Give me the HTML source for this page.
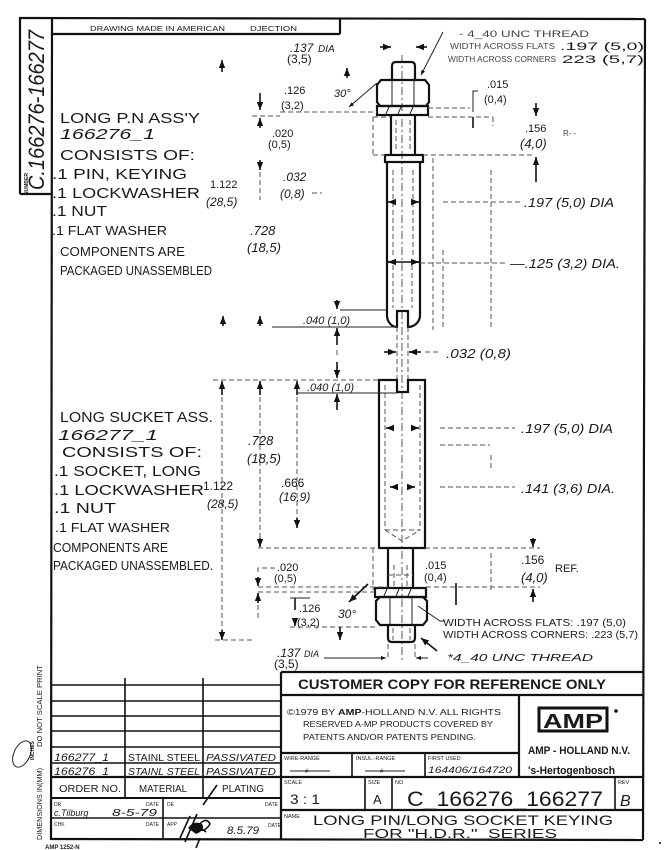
<!DOCTYPE html>
<html><head><meta charset="utf-8"><style>
html,body{margin:0;padding:0;background:#fff;}
svg{display:block;}
text{font-family:"Liberation Sans",sans-serif;fill:#1a1a1a;}
.it{font-style:italic;}
.b{font-weight:bold;}
.faint{fill:#444;}
.th{stroke:#111;stroke-width:2.2;fill:none;}
.md{stroke:#111;stroke-width:1.6;fill:none;}
.tn{stroke:#222;stroke-width:1;fill:none;}
.ds{stroke:#555;stroke-width:1;fill:none;stroke-dasharray:5 3;}
.cl{stroke:#555;stroke-width:1;fill:none;stroke-dasharray:8 3 2 3;}
</style></head><body>
<svg width="666" height="850" viewBox="0 0 666 850" xmlns="http://www.w3.org/2000/svg">
<defs>
<marker id="ar" viewBox="0 0 10 10" refX="10" refY="5" markerWidth="5" markerHeight="5" orient="auto-start-reverse"><path d="M0,1 L10,5 L0,9 z" fill="#111"/></marker>
</defs>

<!-- ===== BORDERS ===== -->
<line x1="20" y1="18" x2="645" y2="19" class="th"/>
<line x1="645" y1="19" x2="643" y2="840" class="th"/>
<line x1="52" y1="17" x2="51" y2="840" class="th"/>
<line x1="51" y1="839" x2="643" y2="840" class="th"/>
<line x1="20" y1="17" x2="20" y2="194" class="th"/>
<line x1="20" y1="194" x2="52" y2="194" class="th"/>
<text transform="translate(44,190) rotate(-90)" font-size="22" textLength="160" lengthAdjust="spacingAndGlyphs" class="it">C.166276-166277</text>
<text transform="translate(28,195) rotate(-90)" font-size="5" class="b">NUMBER</text>
<line x1="52" y1="34" x2="340" y2="34" class="th"/>
<line x1="340" y1="18" x2="340" y2="34" class="th"/>
<text x="90" y="31" font-size="7.5" textLength="135" lengthAdjust="spacingAndGlyphs">DRAWING MADE IN AMERICAN</text>
<text x="250" y="31" font-size="7.5" textLength="47" lengthAdjust="spacingAndGlyphs">DJECTION</text>

<!-- ===== LEFT TEXT: PIN ===== -->
<g font-size="15">
<text x="60" y="123" textLength="140" lengthAdjust="spacingAndGlyphs">LONG P.N ASS'Y</text>
<text x="60" y="139" textLength="95" lengthAdjust="spacingAndGlyphs" class="it">166276_1</text>
<text x="60" y="160" textLength="135" lengthAdjust="spacingAndGlyphs">CONSISTS OF:</text>
<text x="52" y="179" textLength="135" lengthAdjust="spacingAndGlyphs">.1 PIN, KEYING</text>
<text x="52" y="198" textLength="148" lengthAdjust="spacingAndGlyphs">.1 LOCKWASHER</text>
<text x="52" y="216" textLength="55" lengthAdjust="spacingAndGlyphs">.1 NUT</text>
</g>
<g font-size="13">
<text x="52" y="235" textLength="115" lengthAdjust="spacingAndGlyphs">.1 FLAT WASHER</text>
<text x="60" y="256" textLength="125" lengthAdjust="spacingAndGlyphs">COMPONENTS ARE</text>
<text x="60" y="275" textLength="152" lengthAdjust="spacingAndGlyphs">PACKAGED UNASSEMBLED</text>
</g>

<!-- ===== LEFT TEXT: SOCKET ===== -->
<g font-size="15">
<text x="60" y="422" textLength="153" lengthAdjust="spacingAndGlyphs">LONG SUCKET ASS.</text>
<text x="58" y="440" textLength="100" lengthAdjust="spacingAndGlyphs" class="it">166277_1</text>
<text x="62" y="457" textLength="140" lengthAdjust="spacingAndGlyphs">CONSISTS OF:</text>
<text x="54" y="476" textLength="147" lengthAdjust="spacingAndGlyphs">.1 SOCKET, LONG</text>
<text x="54" y="495" textLength="150" lengthAdjust="spacingAndGlyphs">.1 LOCKWASHER</text>
<text x="54" y="513" textLength="62" lengthAdjust="spacingAndGlyphs">.1 NUT</text>
</g>
<g font-size="13">
<text x="55" y="532" textLength="115" lengthAdjust="spacingAndGlyphs">.1 FLAT WASHER</text>
<text x="53" y="552" textLength="115" lengthAdjust="spacingAndGlyphs">COMPONENTS ARE</text>
<text x="53" y="570" textLength="160" lengthAdjust="spacingAndGlyphs">PACKAGED UNASSEMBLED.</text>
</g>

<!-- ===== CENTERLINE ===== -->
<line x1="402" y1="55" x2="402" y2="660" class="cl"/>

<!-- ===== PIN ===== -->
<path d="M392,80 V66 Q392,62 396,62 H411 Q415,62 415,66 V80" class="th"/>
<polygon points="381,80 425,80 429,85 429,102 426,106 380,106 377,102 377,85" class="th"/>
<line x1="392" y1="80" x2="392" y2="106" class="tn"/>
<line x1="414" y1="80" x2="414" y2="106" class="tn"/>
<rect x="377" y="106" width="51" height="9" class="th"/>
<path d="M386,114 l3,-7 M398,114 l3,-7 M410,114 l3,-7" class="tn"/>
<line x1="391" y1="115" x2="391" y2="155" class="th"/>
<line x1="415" y1="115" x2="415" y2="155" class="th"/>
<line x1="396" y1="120" x2="396" y2="152" class="ds"/>
<line x1="410" y1="120" x2="410" y2="152" class="ds"/>
<rect x="385" y="155" width="38" height="7" class="th"/>
<path d="M387,162 V314 A10,12 0 0 0 397,327 V311 H408 V327 A12,12 0 0 0 420,314 V162" class="th"/>
<line x1="387" y1="262" x2="420" y2="262" class="md"/>
<line x1="393" y1="265" x2="393" y2="308" class="ds"/>
<line x1="412" y1="265" x2="412" y2="308" class="ds"/>
<line x1="393" y1="170" x2="393" y2="258" class="ds"/>
<line x1="413" y1="170" x2="413" y2="258" class="ds"/>
<line x1="395" y1="202" x2="388" y2="202" class="md" marker-end="url(#ar)"/>
<line x1="412" y1="202" x2="419" y2="202" class="md" marker-end="url(#ar)"/>
<line x1="396" y1="262" x2="388" y2="262" class="md" marker-end="url(#ar)"/>
<line x1="411" y1="262" x2="419" y2="262" class="md" marker-end="url(#ar)"/>
<line x1="397" y1="327" x2="397" y2="392" class="ds"/>
<line x1="408" y1="327" x2="408" y2="392" class="ds"/>
<line x1="384" y1="352" x2="396" y2="352" class="md" marker-end="url(#ar)"/>
<line x1="421" y1="352" x2="409" y2="352" class="md" marker-end="url(#ar)"/>
<line x1="425" y1="352" x2="440" y2="352" class="ds"/>

<!-- ===== SOCKET ===== -->
<path d="M379,380 H397 V392 H408 V380 H425 V548 H379 Z" class="th"/>
<line x1="385" y1="385" x2="385" y2="530" class="ds"/>
<line x1="420" y1="385" x2="420" y2="530" class="ds"/>
<path d="M385,530 L402,541 L420,530" class="ds"/>
<line x1="385" y1="530" x2="420" y2="530" class="ds"/>
<line x1="394" y1="428" x2="386" y2="428" class="md" marker-end="url(#ar)"/>
<line x1="411" y1="428" x2="419" y2="428" class="md" marker-end="url(#ar)"/>
<line x1="397" y1="487" x2="390" y2="487" class="md" marker-end="url(#ar)"/>
<line x1="408" y1="487" x2="415" y2="487" class="md" marker-end="url(#ar)"/>
<line x1="388" y1="548" x2="388" y2="588" class="th"/>
<line x1="413" y1="548" x2="413" y2="588" class="th"/>
<line x1="394" y1="565" x2="394" y2="588" class="ds"/>
<line x1="407" y1="565" x2="407" y2="588" class="ds"/>
<line x1="388" y1="575" x2="413" y2="575" class="ds"/>
<rect x="375" y="588" width="51" height="9" class="th"/>
<path d="M384,596 l3,-7 M396,596 l3,-7 M408,596 l3,-7" class="tn"/>
<polygon points="380,597 423,597 427,601 427,620 423,625 380,625 376,620 376,601" class="th"/>
<line x1="390" y1="597" x2="390" y2="625" class="tn"/>
<line x1="412" y1="597" x2="412" y2="625" class="tn"/>
<path d="M388,625 V638 Q388,642 392,642 H411 Q415,642 415,638 V625" class="th"/>
<line x1="393" y1="628" x2="393" y2="640" class="ds"/>
<line x1="410" y1="628" x2="410" y2="640" class="ds"/>

<!-- ===== PIN DIMENSIONS ===== -->
<text x="459" y="37" font-size="9" textLength="130" lengthAdjust="spacingAndGlyphs" class="faint">- 4_40 UNC THREAD</text>
<text x="450" y="49" font-size="8" textLength="105" lengthAdjust="spacingAndGlyphs" class="faint">WIDTH ACROSS FLATS</text>
<text x="560" y="50" font-size="11" textLength="84" lengthAdjust="spacingAndGlyphs">.197 (5,0)</text>
<text x="448" y="62" font-size="8" textLength="108" lengthAdjust="spacingAndGlyphs" class="faint">WIDTH ACROSS CORNERS</text>
<text x="562" y="63" font-size="11" textLength="82" lengthAdjust="spacingAndGlyphs">223 (5,7)</text>
<line x1="443" y1="32" x2="421" y2="75" class="tn" marker-end="url(#ar)"/>

<text x="290" y="52" font-size="12" class="it">.137</text>
<text x="318" y="52" font-size="10" class="it">DIA</text>
<text x="287" y="63" font-size="12">(3,5)</text>
<line x1="380" y1="47" x2="391" y2="47" class="md" marker-end="url(#ar)"/>
<line x1="427" y1="47" x2="416" y2="47" class="md" marker-end="url(#ar)"/>
<line x1="222" y1="72" x2="222" y2="60" class="md" marker-end="url(#ar)"/>
<line x1="347" y1="78" x2="347" y2="68" class="md" marker-end="url(#ar)"/>

<text x="334" y="97" font-size="11" class="it">30°</text>
<line x1="377" y1="83" x2="349" y2="107" class="tn" marker-end="url(#ar)"/>

<text x="284" y="94" font-size="11">.126</text>
<text x="281" y="109" font-size="11">(3,2)</text>
<line x1="280" y1="112" x2="377" y2="112" class="ds"/>
<line x1="252" y1="116" x2="280" y2="116" class="ds"/>
<line x1="260" y1="93" x2="260" y2="110" class="md" marker-end="url(#ar)"/>
<line x1="260" y1="128" x2="260" y2="118" class="md" marker-end="url(#ar)"/>
<text x="272" y="137" font-size="11">.020</text>
<text x="268" y="148" font-size="11">(0,5)</text>
<line x1="260" y1="160" x2="260" y2="170" class="md" marker-end="url(#ar)"/>
<line x1="260" y1="172" x2="260" y2="200" class="ds"/>
<text x="283" y="181" font-size="12" class="it">.032</text>
<text x="280" y="198" font-size="12" class="it">(0,8)</text>
<line x1="312" y1="193" x2="322" y2="193" class="ds"/>
<text x="210" y="188" font-size="11">1.122</text>
<text x="206" y="206" font-size="12" class="it">(28,5)</text>
<text x="250" y="235" font-size="13" class="it">.728</text>
<text x="247" y="252" font-size="13" class="it">(18,5)</text>

<text x="487" y="88" font-size="11">.015</text>
<text x="484" y="103" font-size="11">(0,4)</text>
<path d="M478,91 H473 V112" class="tn"/>
<line x1="473" y1="117" x2="473" y2="128" class="md"/>
<line x1="428" y1="108" x2="470" y2="108" class="ds"/>
<line x1="428" y1="117" x2="493" y2="117" class="ds"/>
<line x1="493" y1="117" x2="493" y2="126" class="ds"/>
<line x1="373" y1="117" x2="373" y2="155" class="ds"/>
<line x1="373" y1="117" x2="391" y2="117" class="ds"/>
<line x1="373" y1="155" x2="385" y2="155" class="ds"/>
<line x1="423" y1="155" x2="535" y2="155" class="ds"/>
<line x1="536" y1="103" x2="536" y2="116" class="md" marker-end="url(#ar)"/>
<line x1="536" y1="182" x2="536" y2="157" class="md" marker-end="url(#ar)"/>
<text x="525" y="132" font-size="11">.156</text>
<text x="520" y="148" font-size="13" class="it">(4,0)</text>
<text x="563" y="136" font-size="8" class="faint">R- -</text>
<line x1="433" y1="158" x2="433" y2="330" class="ds"/>
<line x1="491" y1="170" x2="491" y2="330" class="ds"/>
<line x1="443" y1="250" x2="443" y2="330" class="ds"/>
<line x1="443" y1="202" x2="520" y2="202" class="ds"/>
<text x="524" y="207" font-size="13" textLength="90" lengthAdjust="spacingAndGlyphs" class="it">.197 (5,0) DIA</text>
<line x1="420" y1="263" x2="505" y2="263" class="ds"/>
<text x="510" y="268" font-size="13" textLength="110" lengthAdjust="spacingAndGlyphs" class="it">—.125 (3,2) DIA.</text>

<line x1="223" y1="326" x2="223" y2="316" class="md" marker-end="url(#ar)"/>
<line x1="260" y1="326" x2="260" y2="316" class="md" marker-end="url(#ar)"/>
<line x1="272" y1="327" x2="397" y2="327" class="tn"/>
<line x1="340" y1="310" x2="387" y2="310" class="tn"/>
<line x1="337" y1="300" x2="337" y2="309" class="md" marker-end="url(#ar)"/>
<line x1="337" y1="345" x2="337" y2="328" class="md" marker-end="url(#ar)"/>
<text x="303" y="324" font-size="11" class="it">.040 (1,0)</text>
<line x1="337" y1="350" x2="337" y2="355" class="ds"/>
<text x="446" y="358" font-size="13" textLength="65" lengthAdjust="spacingAndGlyphs" class="it">.032 (0,8)</text>

<!-- ===== SOCKET DIMENSIONS ===== -->
<line x1="337" y1="362" x2="337" y2="378" class="md" marker-end="url(#ar)"/>
<line x1="213" y1="380" x2="379" y2="380" class="ds"/>
<line x1="222" y1="395" x2="222" y2="381" class="md" marker-end="url(#ar)"/>
<line x1="260" y1="395" x2="260" y2="381" class="md" marker-end="url(#ar)"/>
<line x1="297" y1="395" x2="297" y2="381" class="md" marker-end="url(#ar)"/>
<text x="307" y="391" font-size="11" class="it">.040 (1,0)</text>
<line x1="297" y1="393" x2="397" y2="393" class="tn"/>
<line x1="337" y1="410" x2="337" y2="394" class="md" marker-end="url(#ar)"/>
<line x1="222" y1="397" x2="222" y2="630" class="ds"/>
<line x1="222" y1="630" x2="222" y2="640" class="md" marker-end="url(#ar)"/>
<line x1="215" y1="640" x2="255" y2="640" class="ds"/>
<line x1="260" y1="397" x2="260" y2="538" class="ds"/>
<line x1="260" y1="538" x2="260" y2="547" class="md" marker-end="url(#ar)"/>
<line x1="297" y1="397" x2="297" y2="518" class="ds"/>
<line x1="297" y1="518" x2="297" y2="528" class="md" marker-end="url(#ar)"/>
<text x="248" y="445" font-size="13" class="it">.728</text>
<text x="247" y="463" font-size="13" class="it">(18,5)</text>
<text x="203" y="490" font-size="12">1.122</text>
<text x="207" y="508" font-size="12" class="it">(28,5)</text>
<text x="281" y="487" font-size="12">.666</text>
<text x="279" y="501" font-size="12" class="it">(16,9)</text>
<line x1="258" y1="548" x2="379" y2="548" class="ds"/>
<line x1="425" y1="548" x2="540" y2="548" class="ds"/>
<text x="277" y="571" font-size="11">.020</text>
<text x="274" y="582" font-size="11">(0,5)</text>
<path d="M275,568 H258 V572" class="ds"/>
<line x1="258" y1="577" x2="258" y2="586" class="md" marker-end="url(#ar)"/>
<line x1="258" y1="587" x2="388" y2="587" class="ds"/>
<line x1="258" y1="592" x2="375" y2="592" class="ds"/>
<line x1="258" y1="603" x2="258" y2="593" class="md" marker-end="url(#ar)"/>
<line x1="258" y1="605" x2="258" y2="620" class="ds"/>
<line x1="295" y1="598" x2="295" y2="610" class="md"/>
<line x1="290" y1="598" x2="310" y2="598" class="tn"/>
<text x="299" y="612" font-size="11">.126</text>
<text x="297" y="626" font-size="11">(3,2)</text>
<line x1="295" y1="618" x2="295" y2="626" class="md" marker-end="url(#ar)"/>
<line x1="290" y1="627" x2="376" y2="627" class="ds"/>
<line x1="340" y1="627" x2="340" y2="640" class="md" marker-end="url(#ar)"/>
<text x="338" y="618" font-size="12" class="it">30°</text>
<line x1="368" y1="584" x2="349" y2="602" class="md" marker-end="url(#ar)"/>
<text x="277" y="657" font-size="12" class="it">.137</text>
<text x="304" y="657" font-size="9" class="it">DIA</text>
<text x="274" y="668" font-size="12">(3,5)</text>
<line x1="324" y1="658" x2="386" y2="658" class="tn" marker-end="url(#ar)"/>
<line x1="428" y1="658" x2="416" y2="658" class="tn" marker-end="url(#ar)"/>
<line x1="388" y1="644" x2="388" y2="660" class="ds"/>
<line x1="415" y1="644" x2="415" y2="660" class="ds"/>

<text x="521" y="433" font-size="13" textLength="92" lengthAdjust="spacingAndGlyphs" class="it">.197 (5,0) DIA</text>
<line x1="440" y1="428" x2="515" y2="428" class="ds"/>
<line x1="440" y1="445" x2="490" y2="445" class="ds"/>
<text x="521" y="493" font-size="13" textLength="94" lengthAdjust="spacingAndGlyphs" class="it">.141 (3,6) DIA.</text>
<line x1="440" y1="487" x2="515" y2="487" class="ds"/>
<line x1="491" y1="455" x2="491" y2="470" class="ds"/>
<text x="425" y="569" font-size="11">.015</text>
<text x="424" y="581" font-size="11">(0,4)</text>
<line x1="456" y1="583" x2="456" y2="605" class="md"/>
<line x1="491" y1="553" x2="491" y2="590" class="ds"/>
<line x1="373" y1="548" x2="373" y2="590" class="ds"/>
<line x1="426" y1="587" x2="540" y2="587" class="ds"/>
<text x="521" y="564" font-size="12">.156</text>
<text x="521" y="582" font-size="13" class="it">(4,0)</text>
<text x="555" y="572" font-size="11">REF.</text>
<line x1="533" y1="538" x2="533" y2="547" class="md" marker-end="url(#ar)"/>
<line x1="533" y1="602" x2="533" y2="589" class="md" marker-end="url(#ar)"/>
<path d="M418,606 L440,621 H444" class="tn"/>
<text x="443" y="626" font-size="10" textLength="183" lengthAdjust="spacingAndGlyphs">WIDTH ACROSS FLATS: .197 (5,0)</text>
<text x="443" y="638" font-size="10" textLength="195" lengthAdjust="spacingAndGlyphs">WIDTH ACROSS CORNERS: .223 (5,7)</text>
<line x1="437" y1="651" x2="421" y2="638" class="md" marker-end="url(#ar)"/>
<text x="447" y="661" font-size="10" textLength="146" lengthAdjust="spacingAndGlyphs" class="it">*4_40 UNC THREAD</text>

<!-- ===== REVISION / ORDER TABLE ===== -->
<g class="md">
<line x1="52" y1="685" x2="280" y2="685"/>
<line x1="52" y1="701" x2="280" y2="701"/>
<line x1="52" y1="716" x2="280" y2="716"/>
<line x1="52" y1="731" x2="280" y2="731"/>
<line x1="52" y1="747" x2="280" y2="747"/>
<line x1="52" y1="763" x2="280" y2="763"/>
<line x1="52" y1="777" x2="280" y2="777" stroke-width="2.2"/>
<line x1="52" y1="798" x2="280" y2="798" stroke-width="2"/>
<line x1="52" y1="818" x2="280" y2="818"/>
<line x1="125" y1="678" x2="125" y2="798"/>
<line x1="203" y1="678" x2="203" y2="798"/>
<line x1="163" y1="798" x2="163" y2="838"/>
</g>
<text x="54" y="761" font-size="11" class="it" textLength="55" lengthAdjust="spacingAndGlyphs">166277_1</text>
<text x="128" y="761" font-size="10" textLength="72" lengthAdjust="spacingAndGlyphs">STAINL STEEL</text>
<text x="206" y="761" font-size="10" class="it" textLength="70" lengthAdjust="spacingAndGlyphs">PASSIVATED</text>
<text x="54" y="775" font-size="11" class="it" textLength="55" lengthAdjust="spacingAndGlyphs">166276_1</text>
<text x="128" y="775" font-size="10" class="it" textLength="72" lengthAdjust="spacingAndGlyphs">STAINL STEEL</text>
<text x="206" y="775" font-size="10" class="it" textLength="70" lengthAdjust="spacingAndGlyphs">PASSIVATED</text>
<text x="59" y="792" font-size="10" textLength="62" lengthAdjust="spacingAndGlyphs">ORDER NO.</text>
<text x="139" y="792" font-size="10" textLength="48" lengthAdjust="spacingAndGlyphs">MATERIAL</text>
<text x="222" y="792" font-size="10" textLength="42" lengthAdjust="spacingAndGlyphs">PLATING</text>
<text x="54" y="806" font-size="5">DR</text>
<text x="146" y="806" font-size="5">DATE</text>
<text x="167" y="806" font-size="5">DE</text>
<text x="265" y="806" font-size="5">DATE</text>
<text x="54" y="816" font-size="9" class="it">c.Tilburg</text>
<text x="112" y="816" font-size="10" class="it" textLength="45" lengthAdjust="spacingAndGlyphs">8-5-79</text>
<line x1="54" y1="818" x2="160" y2="818" class="tn"/>
<text x="54" y="826" font-size="5">CHK</text>
<text x="146" y="826" font-size="5">DATE</text>
<text x="167" y="826" font-size="5">APP</text>
<text x="268" y="827" font-size="5">DATE</text>
<text x="227" y="834" font-size="11" class="it" textLength="32" lengthAdjust="spacingAndGlyphs">8.5.79</text>
<path d="M180,838 l10,-22 M185,842 l12,-28 M198,826 q8,-10 12,-2 q-6,10 -14,4 M190,830 q10,-4 16,2 M203,805 l14,-20 M196,848 l4,-10" class="md"/>
<path d="M188,828 q6,-8 14,-4 q4,6 -6,10 z" fill="#111"/>

<text transform="translate(42,840) rotate(-90)" font-size="7" textLength="72" lengthAdjust="spacingAndGlyphs">DIMENSIONS IN(MM)</text>
<text transform="translate(42,747) rotate(-90)" font-size="7" textLength="82" lengthAdjust="spacingAndGlyphs">DO NOT SCALE PRINT</text>
<text transform="translate(34,760) rotate(-90)" font-size="5" class="b">INCHES</text>
<ellipse cx="22" cy="754" rx="8" ry="14" transform="rotate(25 22 754)" class="tn"/>
<text x="45" y="849" font-size="6" class="b">AMP 1252-N</text>

<!-- ===== TITLE BLOCK ===== -->
<g class="th">
<line x1="281" y1="672" x2="643" y2="672"/>
<line x1="281" y1="672" x2="281" y2="840"/>
<line x1="281" y1="695" x2="643" y2="695"/>
<line x1="281" y1="753" x2="519" y2="753"/>
<line x1="519" y1="695" x2="519" y2="777"/>
<line x1="281" y1="777" x2="643" y2="777"/>
<line x1="281" y1="810" x2="643" y2="810"/>
</g>
<g class="md">
<line x1="352" y1="753" x2="352" y2="777"/>
<line x1="425" y1="753" x2="425" y2="777"/>
<line x1="365" y1="777" x2="365" y2="810"/>
<line x1="392" y1="777" x2="392" y2="810"/>
<line x1="615" y1="777" x2="615" y2="810"/>
</g>
<text x="298" y="689" font-size="14" class="b" textLength="308" lengthAdjust="spacingAndGlyphs">CUSTOMER COPY FOR REFERENCE ONLY</text>
<text x="287" y="715" font-size="8.5" textLength="214" lengthAdjust="spacingAndGlyphs">©1979  BY <tspan font-weight="bold">AMP</tspan>-HOLLAND N.V. ALL RIGHTS</text>
<text x="303" y="727" font-size="8.5" textLength="190" lengthAdjust="spacingAndGlyphs">RESERVED A-MP PRODUCTS COVERED BY</text>
<text x="303" y="740" font-size="8.5" textLength="173" lengthAdjust="spacingAndGlyphs">PATENTS AND/OR PATENTS PENDING.</text>
<rect x="539" y="708" width="68" height="23" fill="none" stroke="#111" stroke-width="3"/>
<text x="543" y="728" font-size="20" class="b" textLength="60" lengthAdjust="spacingAndGlyphs">AMP</text>
<circle cx="616" cy="711" r="1.8" fill="#111"/>
<text x="528" y="754" font-size="11" class="b" textLength="102" lengthAdjust="spacingAndGlyphs">AMP - HOLLAND N.V.</text>
<text x="528" y="774" font-size="11" class="b" textLength="87" lengthAdjust="spacingAndGlyphs">'s-Hertogenbosch</text>
<text x="284" y="760" font-size="5.5">WIRE-RANGE</text>
<text x="356" y="760" font-size="5.5">INSUL.-RANGE</text>
<text x="428" y="760" font-size="5.5">FIRST USED</text>
<line x1="290" y1="771" x2="330" y2="771" class="tn"/>
<text x="305" y="773" font-size="6">#</text>
<line x1="365" y1="771" x2="405" y2="771" class="tn"/>
<text x="380" y="773" font-size="6">#</text>
<text x="428" y="773" font-size="9" class="it" textLength="84" lengthAdjust="spacingAndGlyphs">164406/164720</text>
<text x="284" y="784" font-size="5.5">SCALE</text>
<text x="368" y="784" font-size="5.5">SIZE</text>
<text x="395" y="784" font-size="5.5">NO</text>
<text x="618" y="784" font-size="5.5">REV</text>
<text x="290" y="804" font-size="14" textLength="30" lengthAdjust="spacingAndGlyphs">3 : 1</text>
<text x="373" y="804" font-size="13">A</text>
<text x="407" y="806" font-size="21" textLength="196" lengthAdjust="spacingAndGlyphs">C_166276_166277</text>
<text x="620" y="806" font-size="16" class="it">B</text>
<text x="284" y="818" font-size="5.5">NAME</text>
<text x="313" y="825" font-size="14" textLength="300" lengthAdjust="spacingAndGlyphs">LONG PIN/LONG SOCKET KEYING</text>
<text x="363" y="838" font-size="12.5" textLength="194" lengthAdjust="spacingAndGlyphs">FOR "H.D.R."_SERIES</text>
<line x1="363" y1="839" x2="557" y2="839" class="tn"/>
<circle cx="660" cy="843" r="1" fill="#111"/>
</svg>
</body></html>
